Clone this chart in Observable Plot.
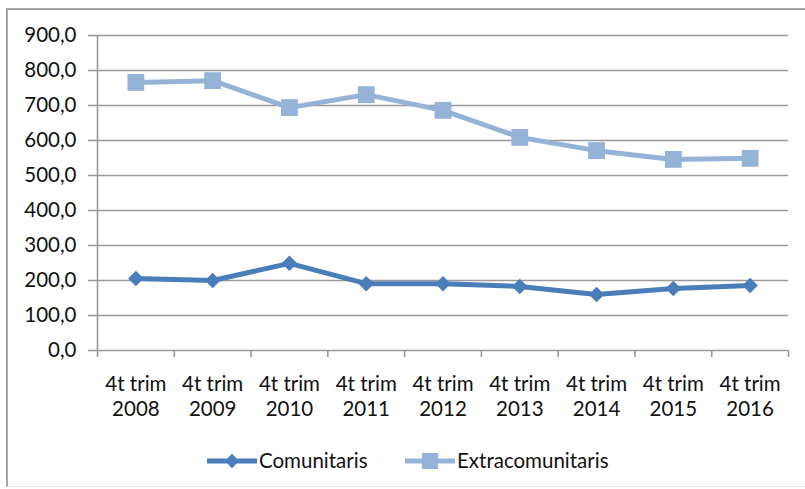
<!DOCTYPE html>
<html>
<head>
<meta charset="utf-8">
<script src="https://cdn.jsdelivr.net/npm/d3@7"></script>
<script src="https://cdn.jsdelivr.net/npm/@observablehq/plot@0.6"></script>
<style>
  html, body { margin: 0; padding: 0; background: #fff; }
  #wrap { position: relative; width: 805px; height: 489px; overflow: hidden; font-family: Lato, "Open Sans", sans-serif; }
  #frame { position: absolute; left: 6px; top: 8px; width: 820px; height: 476px; border-left: 2px solid #a6a6a6; border-top: 2px solid #a6a6a6; border-bottom: 1px solid #e4e4e4; }
  #chart { position: absolute; left: 0; top: 0; }
  #legend { position: absolute; left: 0; top: 448px; width: 805px; height: 28px; }
</style>
</head>
<body>
<div id="wrap">
  <div id="frame"></div>
  <div id="chart"></div>
  <div id="legend"></div>
</div>
<script>
// ---- data ----
const quarterLabel = "4t trim";
const years = ["2008", "2009", "2010", "2011", "2012", "2013", "2014", "2015", "2016"];
const comunitaris = [206, 200, 249, 191, 191, 183, 160, 177, 186];
const extracomunitaris = [766, 771, 694, 731, 686, 609, 571, 546, 549];
const seriesNames = ["Comunitaris", "Extracomunitaris"];
const seriesColors = ["#4a7ebb", "#95b3d7"];
const yTicks = [0, 100, 200, 300, 400, 500, 600, 700, 800, 900];

const rows = [];
years.forEach((y, i) => {
  rows.push({series: seriesNames[0], i: i + 0.5, value: comunitaris[i]});
  rows.push({series: seriesNames[1], i: i + 0.5, value: extracomunitaris[i]});
});
const labelPos = years.map((y, i) => i + 0.5);
const boundaries = d3.range(years.length + 1);
const fmt = d => d.toFixed(1).replace(".", ",");
const FONT = 20.5;

const chart = Plot.plot({
  width: 805,
  height: 430,
  marginLeft: 97,
  marginRight: 17,
  marginTop: 35,
  marginBottom: 80,
  style: {fontFamily: "Lato, 'Open Sans', sans-serif", fontSize: FONT + "px", color: "#111", background: "transparent"},
  x: {type: "linear", domain: [0, years.length]},
  y: {domain: [0, 900]},
  color: {domain: seriesNames, range: seriesColors},
  marks: [
    Plot.gridY(yTicks, {stroke: "#999", strokeOpacity: 1, strokeWidth: 1.6}),
    Plot.axisY(yTicks, {tickSize: 9, tickPadding: 12, tickFormat: fmt, stroke: "#999", strokeWidth: 1.6, fontSize: FONT, label: null}),
    Plot.ruleX([0], {stroke: "#999", strokeWidth: 1.6}),
    Plot.axisX(boundaries, {tickSize: 7, tickFormat: () => "", stroke: "#999", strokeWidth: 1.6, label: null}),
    Plot.axisX(labelPos, {tickSize: 0, tickPadding: 23, tickFormat: d => quarterLabel + "\n" + years[Math.floor(d)], fontSize: FONT, lineHeight: 1.22, label: null}),
    Plot.line(rows, {x: "i", y: "value", z: "series", stroke: "series", strokeWidth: 5}),
    Plot.dot(rows.filter(d => d.series === seriesNames[1]), {x: "i", y: "value", symbol: "square", r: 9.5, fill: seriesColors[1], stroke: null}),
    Plot.dot(rows.filter(d => d.series === seriesNames[0]), {x: "i", y: "value", symbol: "diamond2", r: 7, fill: seriesColors[0], stroke: null})
  ]
});
document.getElementById("chart").appendChild(chart);

// ---- legend ----
const legend = d3.select("#legend");
const lsvg = legend.append("svg").attr("width", 805).attr("height", 28)
  .style("font-family", "Lato, 'Open Sans', sans-serif").style("font-size", FONT + "px");
const items = [
  {name: seriesNames[0], color: seriesColors[0], x0: 207, sym: d3.symbolDiamond2, size: 130},
  {name: seriesNames[1], color: seriesColors[1], x0: 405, sym: d3.symbolSquare, size: 260}
];
items.forEach(it => {
  const g = lsvg.append("g");
  g.append("line").attr("x1", it.x0).attr("x2", it.x0 + 50).attr("y1", 13).attr("y2", 13)
    .attr("stroke", it.color).attr("stroke-width", 5);
  g.append("path").attr("d", d3.symbol(it.sym, it.size)()).attr("transform", `translate(${it.x0 + 25},13)`)
    .attr("fill", it.color);
  g.append("text").attr("x", it.x0 + 52).attr("y", 13).attr("dy", "0.35em").attr("fill", "#111").text(it.name);
});
</script>
</body>
</html>
